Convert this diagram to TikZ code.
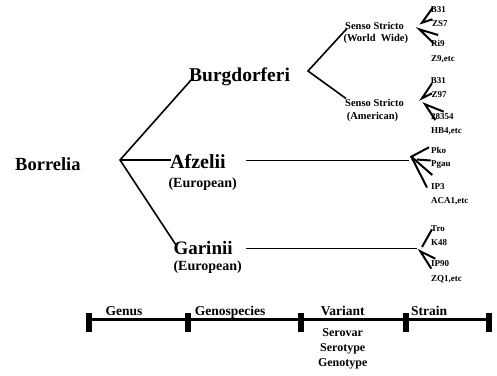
\documentclass[tikz,border=0pt]{standalone}
\usepackage{fontspec}
\setmainfont{Liberation Serif}
\newcommand{\fs}[1]{\fontsize{#1}{#1}\selectfont}
\begin{document}
\begin{tikzpicture}[x=1pt,y=-1pt,
  lbl/.style={inner sep=0pt, anchor=base west, font=\bfseries},
  genus/.style={lbl, font=\bfseries\fs{18.5}},
  spec/.style={lbl, font=\bfseries\fs{19.5}},
  eur/.style={lbl, font=\bfseries\fs{14}},
  senso/.style={lbl, font=\bfseries\fs{10.5}},
  strain/.style={lbl, font=\bfseries\fs{9}},
  scl/.style={inner sep=0pt, anchor=base, font=\bfseries\fs{13.5}},
  sub/.style={inner sep=0pt, anchor=base, font=\bfseries\fs{12}},
  br/.style={line width=1.6pt},
  sbr/.style={line width=2pt},
  tick/.style={rectangle, fill=black, inner sep=0pt, minimum width=6pt, minimum height=18.5pt},
  bar/.style={line width=3.3pt}]
\useasboundingbox (0,0) rectangle (497,375);

% genus and species
\node[genus] (borrelia) at (15,170) {Borrelia};
\node[spec] (burg) at (189,81.7) {Burgdorferi};
\node[spec, font=\bfseries\fs{20}] (afz) at (170,168.3) {Afzelii};
\node[eur] (afzeu) at (168.3,187.7) {(European)};
\node[spec, font=\bfseries\fs{19}] (gar) at (173.3,254) {Garinii};
\node[eur] (gareu) at (173.3,270.5) {(European)};

\coordinate (f0) at (120,160);
\coordinate (burgin) at (192,79);
\coordinate (afzin) at (171,160);
\coordinate (garin) at (176,245);
\draw[br] (burgin) -- (f0) -- (garin);
\draw[br] (f0) -- (afzin);

% Burgdorferi variants
\coordinate (f1) at (308,71);
\coordinate (wwin) at (347,28.5);
\coordinate (amin) at (346,98.5);
\draw[br] (wwin) -- (f1) -- (amin);
\node[senso] (ss1) at (345,29) {Senso Stricto};
\node[senso] (ww) at (343.3,41.7) {(World\ \ Wide)};
\node[senso] (ss2) at (345,106) {Senso Stricto};
\node[senso] (am) at (346.7,119.3) {(American)};

% species lines
\coordinate (afzout) at (246,160.5);
\coordinate (afzend) at (409,160.5);
\coordinate (garout) at (246,248.3);
\coordinate (garend) at (416.5,248.3);
\draw[br] (afzout) -- (afzend);
\draw[br] (garout) -- (garend);

% strain labels
\node[strain] (s11) at (430.7,12.7) {B31};
\node[strain] (s12) at (432,26) {ZS7};
\node[strain] (s13) at (431,46.7) {Ri9};
\node[strain] (s14) at (431,61.7) {Z9,etc};
\node[strain] (s21) at (430.7,83.3) {B31};
\node[strain] (s22) at (431.5,97.3) {Z97};
\node[strain] (s23) at (431,119.3) {28354};
\node[strain] (s24) at (431,133.3) {HB4,etc};
\node[strain] (s31) at (431,153.3) {Pko};
\node[strain] (s32) at (431,166.7) {Pgau};
\node[strain] (s33) at (431,189.3) {IP3};
\node[strain] (s34) at (431,203.3) {ACA1,etc};
\node[strain] (s41) at (431,231.7) {Tro};
\node[strain] (s42) at (431,245.7) {K48};
\node[strain] (s43) at (431,266.7) {IP90};
\node[strain] (s44) at (431,281.7) {ZQ1,etc};

% strain forks
\coordinate (a1) at (422,22.7);
\coordinate (a1a) at (433,7.3);
\coordinate (a1b) at (432.5,19.3);
\coordinate (b1) at (419.3,29.3);
\coordinate (b1a) at (438,35);
\coordinate (b1b) at (433.7,43.3);
\draw[sbr] (a1a) -- (a1) -- (a1b);
\draw[sbr] (b1a) -- (b1) -- (b1b);

\coordinate (a2) at (422,98.3);
\coordinate (a2a) at (432,83.3);
\coordinate (a2b) at (432,93.3);
\coordinate (b2) at (425,104.3);
\coordinate (b2a) at (443.7,111.7);
\coordinate (b2b) at (435.3,120);
\draw[sbr] (a2a) -- (a2) -- (a2b);
\draw[sbr] (b2a) -- (b2) -- (b2b);

\coordinate (a3) at (411.3,156.7);
\coordinate (a3a) at (429,147.3);
\coordinate (a3b) at (430.7,160.5);
\coordinate (a3c) at (432.3,175);
\coordinate (a3d) at (427,187.5);
\draw[sbr] (a3a) -- (a3) -- (a3d);
\draw[sbr] (a3) -- (a3c);
\draw[sbr] (416.7,159.5) -- (a3b);

\coordinate (a4) at (422,247);
\coordinate (a4a) at (432,229.3);
\coordinate (b4) at (420.3,251.3);
\coordinate (b4a) at (435.3,258.7);
\coordinate (b4b) at (431.3,268.7);
\draw[sbr] (a4) -- (a4a);
\draw[sbr] (b4a) -- (b4) -- (b4b);

% scale bar
\node[tick] (t0) at (89.3,322.5) {};
\node[tick] (t1) at (188.3,322.5) {};
\node[tick] (t2) at (300.7,322.5) {};
\node[tick] (t3) at (406,322.5) {};
\node[tick] (t4) at (489,322.5) {};
\draw[bar] (t0.center |- 0,319.3) -- (t4.center |- 0,319.3);

\node[scl] (genus) at (124,315) {Genus};
\node[scl] (geno) at (230,315) {Genospecies};
\node[scl] (var) at (342.7,315) {Variant};
\node[scl] (strain) at (429,315) {Strain};
\node[sub] (serovar) at (342.7,336.7) {Serovar};
\node[sub] (serotype) at (342.7,351.5) {Serotype};
\node[sub] (genotype) at (342.7,366) {Genotype};
\end{tikzpicture}
\end{document}
